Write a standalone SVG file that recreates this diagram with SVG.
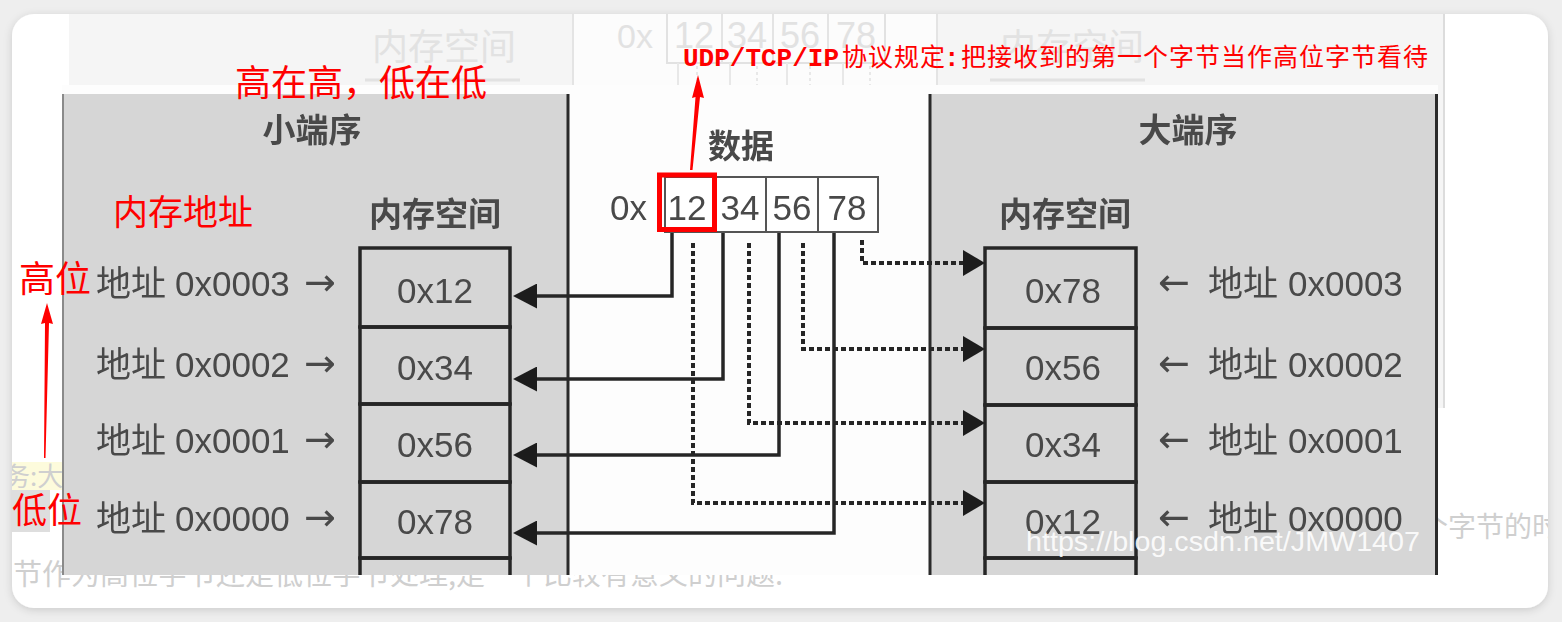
<svg xmlns="http://www.w3.org/2000/svg" width="1562" height="622" viewBox="0 0 1562 622">
<defs>
<style>
.t{font-family:"Liberation Sans","Noto Sans CJK SC",sans-serif;fill:#4a4a4a;font-size:35px}
.ti{font-family:"Noto Sans CJK SC",sans-serif;fill:#4a4a4a;font-size:33px;font-weight:bold}
.ar{font-family:"DejaVu Sans",sans-serif;font-size:38px}
.red{font-family:"Noto Sans CJK SC",sans-serif;fill:#ff0000}
.fade{font-family:"Liberation Sans","Noto Sans CJK SC",sans-serif;fill:#e2e2e2}
.bgt{font-family:"Noto Sans CJK SC",sans-serif;fill:#cfcfcf}
.cell{fill:none;stroke:#262626;stroke-width:3.5}
.solid{fill:none;stroke:#262626;stroke-width:3.5}
.dot{fill:none;stroke:#262626;stroke-width:4;stroke-dasharray:5 3}
.fl{stroke:#e4e4e4;stroke-width:2;fill:none}
.border{stroke:#2a2a2a;stroke-width:3}
</style>
<filter id="sh" x="-5%" y="-5%" width="110%" height="115%">
<feDropShadow dx="0" dy="2" stdDeviation="4" flood-color="#000" flood-opacity="0.15"/>
</filter>
<filter id="soft"><feGaussianBlur stdDeviation="0.5"/></filter>
<clipPath id="card"><rect x="12" y="14" width="1536" height="594" rx="22"/></clipPath>
<clipPath id="img"><rect x="62" y="85" width="1376" height="490"/></clipPath>
<marker id="al" markerUnits="userSpaceOnUse" viewBox="0 0 24 25" markerWidth="24" markerHeight="25" refX="17" refY="12.5" orient="auto">
<path d="M0,0 L24,12.5 L0,25 z" fill="#1e1e1e"/>
</marker>
<marker id="ar" markerUnits="userSpaceOnUse" viewBox="0 0 22 26" markerWidth="22" markerHeight="26" refX="15" refY="13" orient="auto">
<path d="M0,0 L22,13 L0,26 z" fill="#1e1e1e"/>
</marker>
</defs>

<rect x="0" y="0" width="1562" height="622" fill="#eeeeee"/>
<rect x="12" y="14" width="1536" height="594" rx="22" fill="#ffffff" filter="url(#sh)"/>

<g id="background-page" clip-path="url(#card)">
<rect x="69" y="14" width="1376" height="394" fill="#f5f5f5"/>
<rect x="573" y="14" width="364" height="71" fill="#fcfcfc"/>
<line class="fl" x1="573" y1="14" x2="573" y2="85"/>
<line class="fl" x1="937" y1="14" x2="937" y2="85"/>
<line x1="1444" y1="14" x2="1444" y2="408" stroke="#dcdcdc" stroke-width="2"/>
<text class="fade" x="372" y="60" font-size="36">内存空间</text>
<text class="fade" x="1000" y="60" font-size="36">内存空间</text>
<line x1="365" y1="80" x2="520" y2="80" stroke="#e2e2e2" stroke-width="3"/>
<line x1="990" y1="80" x2="1145" y2="80" stroke="#e2e2e2" stroke-width="3"/>
<text class="fade" x="617" y="48" font-size="34">0x</text>
<rect x="667" y="4" width="218" height="59" fill="none" stroke="#e2e2e2" stroke-width="2"/>
<line class="fl" x1="722" y1="4" x2="722" y2="63"/>
<line class="fl" x1="773" y1="4" x2="773" y2="63"/>
<line class="fl" x1="828" y1="4" x2="828" y2="63"/>
<text class="fade" x="694" y="48" font-size="36" text-anchor="middle">12</text>
<text class="fade" x="747" y="48" font-size="36" text-anchor="middle">34</text>
<text class="fade" x="800" y="48" font-size="36" text-anchor="middle">56</text>
<text class="fade" x="856" y="48" font-size="36" text-anchor="middle">78</text>
<g stroke="#e8e8e8" stroke-width="2">
<line x1="678" y1="63" x2="678" y2="85"/>
<line x1="697" y1="66" x2="697" y2="85" stroke-dasharray="3 3"/>
<line x1="730" y1="63" x2="730" y2="85"/>
<line x1="757" y1="66" x2="757" y2="85" stroke-dasharray="3 3"/>
<line x1="787" y1="63" x2="787" y2="85"/>
<line x1="810" y1="66" x2="810" y2="85" stroke-dasharray="3 3"/>
<line x1="843" y1="63" x2="843" y2="85"/>
<line x1="870" y1="66" x2="870" y2="85" stroke-dasharray="3 3"/>
</g>
<rect x="12" y="462" width="50" height="28" fill="#fdfbdc"/>
<rect x="10" y="490" width="40" height="42" fill="#dedede"/>
<text class="bgt" x="4" y="486" font-size="26">务:大</text>
<text class="bgt" x="1420" y="537" font-size="28">个字节的时</text>
<text class="bgt" x="13" y="585" font-size="29">节作为高位字节还是低位字节处理,是一个比较有意义的问题.</text>
</g>

<g id="picture" clip-path="url(#img)">
<rect x="62" y="85" width="1376" height="490" fill="#fdfdfd"/>
<rect x="62" y="94" width="506" height="481" fill="#d6d6d6"/>
<rect x="930" y="94" width="508" height="481" fill="#d6d6d6"/>
<line x1="63" y1="94" x2="63" y2="575" stroke="#8a8a8a" stroke-width="2"/>
<line class="border" x1="568" y1="94" x2="568" y2="575"/>
<line class="border" x1="930" y1="94" x2="930" y2="575"/>
<line class="border" x1="1436.5" y1="94" x2="1436.5" y2="575"/>

<g id="little-endian" filter="url(#soft)">
<text class="ti" x="312" y="142" text-anchor="middle">小端序</text>
<text class="ti" x="435" y="226" text-anchor="middle">内存空间</text>
<g id="le-cells">
<rect class="cell" x="360" y="248" width="150" height="79"/>
<rect class="cell" x="360" y="327" width="150" height="77"/>
<rect class="cell" x="360" y="404" width="150" height="78"/>
<rect class="cell" x="360" y="482" width="150" height="76"/>
<rect class="cell" x="360" y="558" width="150" height="40"/>
<text class="t" x="435" y="303" font-size="36" text-anchor="middle">0x12</text>
<text class="t" x="435" y="380" font-size="36" text-anchor="middle">0x34</text>
<text class="t" x="435" y="457" font-size="36" text-anchor="middle">0x56</text>
<text class="t" x="435" y="534" font-size="36" text-anchor="middle">0x78</text>
</g>
<g id="le-addr">
<text class="t" y="296"><tspan x="96">地址</tspan><tspan x="175">0x0003</tspan><tspan class="ar" x="304" dy="-1">→</tspan></text>
<text class="t" y="377"><tspan x="96">地址</tspan><tspan x="175">0x0002</tspan><tspan class="ar" x="304" dy="-1">→</tspan></text>
<text class="t" y="453"><tspan x="96">地址</tspan><tspan x="175">0x0001</tspan><tspan class="ar" x="304" dy="-1">→</tspan></text>
<text class="t" y="531"><tspan x="96">地址</tspan><tspan x="175">0x0000</tspan><tspan class="ar" x="304" dy="-1">→</tspan></text>
</g>
</g>

<g id="data" filter="url(#soft)">
<text class="ti" x="741" y="158" text-anchor="middle">数据</text>
<text class="t" x="610" y="220" font-size="37">0x</text>
<rect x="665" y="177" width="213" height="55" fill="#ffffff" stroke="#555" stroke-width="2"/>
<line x1="715" y1="177" x2="715" y2="232" stroke="#555" stroke-width="2"/>
<line x1="766" y1="177" x2="766" y2="232" stroke="#555" stroke-width="2"/>
<line x1="818" y1="177" x2="818" y2="232" stroke="#555" stroke-width="2"/>
<text class="t" x="687" y="220" font-size="37" text-anchor="middle">12</text>
<text class="t" x="740" y="220" font-size="37" text-anchor="middle">34</text>
<text class="t" x="792" y="220" font-size="37" text-anchor="middle">56</text>
<text class="t" x="847" y="220" font-size="37" text-anchor="middle">78</text>
</g>

<g id="big-endian" filter="url(#soft)">
<text class="ti" x="1188" y="142" text-anchor="middle">大端序</text>
<text class="ti" x="1065" y="226" text-anchor="middle">内存空间</text>
<g id="be-cells">
<rect class="cell" x="985" y="248" width="151" height="80"/>
<rect class="cell" x="985" y="328" width="151" height="77"/>
<rect class="cell" x="985" y="405" width="151" height="77"/>
<rect class="cell" x="985" y="482" width="151" height="76"/>
<rect class="cell" x="985" y="558" width="151" height="40"/>
<text class="t" x="1063" y="303" font-size="36" text-anchor="middle">0x78</text>
<text class="t" x="1063" y="380" font-size="36" text-anchor="middle">0x56</text>
<text class="t" x="1063" y="457" font-size="36" text-anchor="middle">0x34</text>
<text class="t" x="1063" y="534" font-size="36" text-anchor="middle">0x12</text>
</g>
<g id="be-addr">
<text class="t" y="296"><tspan class="ar" x="1158" dy="-1">←</tspan><tspan x="1208" dy="1">地址</tspan><tspan x="1288">0x0003</tspan></text>
<text class="t" y="377"><tspan class="ar" x="1158" dy="-1">←</tspan><tspan x="1208" dy="1">地址</tspan><tspan x="1288">0x0002</tspan></text>
<text class="t" y="453"><tspan class="ar" x="1158" dy="-1">←</tspan><tspan x="1208" dy="1">地址</tspan><tspan x="1288">0x0001</tspan></text>
<text class="t" y="531"><tspan class="ar" x="1158" dy="-1">←</tspan><tspan x="1208" dy="1">地址</tspan><tspan x="1288">0x0000</tspan></text>
</g>
</g>

<g id="connectors" filter="url(#soft)">
<path class="solid" d="M672,233 V296 H520" marker-end="url(#al)"/>
<path class="solid" d="M723,233 V379 H520" marker-end="url(#al)"/>
<path class="solid" d="M779,233 V455 H520" marker-end="url(#al)"/>
<path class="solid" d="M834,233 V533 H520" marker-end="url(#al)"/>
<path class="dot" d="M862,240 V263 H978" marker-end="url(#ar)"/>
<path class="dot" d="M803,243 V349 H978" marker-end="url(#ar)"/>
<path class="dot" d="M749,243 V423 H978" marker-end="url(#ar)"/>
<path class="dot" d="M693,243 V503 H978" marker-end="url(#ar)"/>
</g>

<text x="1026" y="551" font-family="Liberation Sans, sans-serif" font-size="28" fill="#ffffff" fill-opacity="0.88" textLength="394" lengthAdjust="spacingAndGlyphs">https://blog.csdn.net/JMW1407</text>
</g>

<g id="annotations">
<rect x="659.5" y="175" width="55" height="54.5" fill="none" stroke="#ff0000" stroke-width="5"/>
<path d="M698,75 L704,98 L700,97 L692.5,170 L690,170 L695.5,97 L692,98 Z" fill="#ff0000"/>
<path d="M47,303 L53,324 L49,323 L45.5,458 L44,458 L45,323 L41,324 Z" fill="#ff0000"/>
<text class="red" x="235" y="96" font-size="36">高在高，低在低</text>
<text y="66" fill="#ff0000"><tspan x="683" font-family="Liberation Mono, monospace" font-weight="bold" font-size="26">UDP/TCP/IP</tspan><tspan x="842" font-family="Noto Sans CJK SC, sans-serif" font-size="25" letter-spacing="1">协议规定</tspan><tspan x="944" font-family="Liberation Mono, monospace" font-weight="bold" font-size="26">:</tspan><tspan x="961" font-family="Noto Sans CJK SC, sans-serif" font-size="25" letter-spacing="1">把接收到的第一个字节当作高位字节看待</tspan></text>
<text class="red" x="113" y="225" font-size="35">内存地址</text>
<text class="red" x="19" y="292" font-size="36">高位</text>
<text class="red" x="12" y="523" font-size="35">低位</text>
</g>
</svg>
